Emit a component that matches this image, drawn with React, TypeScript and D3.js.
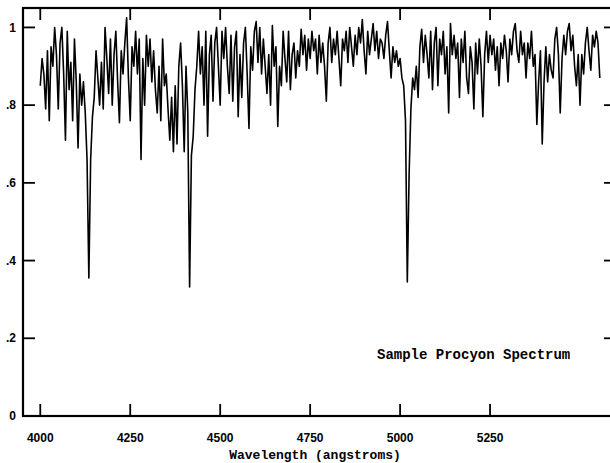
import { useEffect, useRef } from 'react'
import * as d3 from 'd3'

// spectrum sampled on a regular grid: first wavelength and step (angstroms)
const startWavelength = 4000
const wavelengthStep = 5

// normalised flux
const flux = [
  0.85, 0.92, 0.88, 0.79, 0.94, 0.76, 0.95, 0.9, 1.0, 0.93,
  0.79, 0.96, 1.0, 0.88, 0.71, 0.99, 0.84, 0.91, 0.76, 0.97,
  0.86, 0.69, 0.88, 0.8, 0.86, 0.78, 0.66, 0.355, 0.66, 0.77,
  0.82, 0.94, 0.87, 0.8, 0.91, 0.79, 1.0, 0.92, 0.83, 0.97,
  0.8, 0.93, 0.99, 0.86, 0.755, 0.94, 0.88, 0.96, 1.025, 0.87,
  0.76, 0.95, 0.9, 0.99, 0.88, 0.97, 0.66, 0.92, 0.8, 0.98,
  0.9, 0.97, 0.86, 0.94, 0.84, 0.78, 0.9, 0.76, 0.97, 0.85,
  0.88, 0.79, 0.71, 0.82, 0.68, 0.85, 0.7, 0.9, 0.96, 0.85,
  0.68, 0.9, 0.78, 0.332, 0.67, 0.72, 0.84, 0.9, 0.99, 0.88,
  0.95, 0.8, 0.99, 0.72, 0.93, 0.98, 0.81, 0.96, 1.0, 0.9,
  0.8, 0.99, 0.92, 1.0, 0.9, 0.83, 0.98, 0.81, 0.95, 0.99,
  0.77, 0.93, 0.82, 0.96, 1.0, 0.88, 0.74, 0.95, 0.89, 0.99,
  1.015, 0.91, 1.0, 0.88, 0.97, 0.9, 0.83, 0.93, 0.8, 1.005,
  0.9, 0.95, 0.745, 0.9, 0.85, 0.99, 0.92, 0.86, 0.99, 0.84,
  0.93, 0.96, 0.87, 0.94, 0.9, 0.995, 0.93, 0.98, 0.89, 0.97,
  0.92, 0.99, 0.94, 0.97, 0.88, 0.98, 0.91, 0.96, 0.9, 0.81,
  0.96, 1.0, 0.91, 0.97, 0.93, 0.99, 0.92, 0.85, 0.97, 0.94,
  0.99, 0.91, 1.0, 0.95, 0.9, 0.98, 0.93, 1.0, 0.96, 1.02,
  0.94, 0.88, 0.99, 0.93, 0.97, 1.01, 0.94, 0.99, 0.92, 0.97,
  0.96, 0.92, 0.98, 1.015, 0.94, 0.87, 0.95, 0.91, 0.94, 0.9,
  0.92, 0.87, 0.85, 0.76, 0.345, 0.62, 0.79, 0.87, 0.84, 0.9,
  0.82, 0.95, 0.995, 0.91, 0.98, 0.93, 0.87, 0.99, 0.84, 0.96,
  1.0, 0.85, 0.97, 0.93, 0.99, 0.88, 0.95, 0.78, 1.01, 0.93,
  0.98, 0.92, 0.96, 0.82, 0.97, 0.91, 0.99, 0.87, 0.83, 0.95,
  0.91, 0.79, 0.96, 0.88, 0.97, 0.9, 0.77, 0.93, 0.99, 0.91,
  0.98, 0.93, 0.97, 0.89, 0.95, 0.85, 0.96, 0.92, 0.98, 0.94,
  0.86, 0.97, 0.93, 0.99, 1.01, 0.94, 0.91, 0.99, 0.93, 0.96,
  0.87, 0.96, 0.92, 0.99, 0.9, 0.93, 0.75, 0.86, 0.94, 0.7,
  0.86, 0.95, 0.86, 0.93, 0.89, 0.87, 0.97, 1.0, 0.93, 0.78,
  0.92, 0.98, 0.93, 0.99, 1.01, 0.94, 0.98, 0.9, 0.85, 0.93,
  0.8, 0.93, 0.88, 0.96, 1.0, 0.94, 0.89, 0.98, 0.95, 0.99,
  0.96, 0.87,
]

const xTicks = [4000, 4250, 4500, 4750, 5000, 5250]
const yTicks = [0, 0.2, 0.4, 0.6, 0.8, 1]
const yTickLabels = ['0', '.2', '.4', '.6', '.8', '1']

const width = 610
const height = 463
const margin = { top: 8, right: -6, bottom: 47, left: 23 }

export default function App() {
  const ref = useRef<SVGSVGElement | null>(null)

  useEffect(() => {
    if (!ref.current) {return}
    const svg = d3.select(ref.current)
    svg.selectAll('*').remove()

    const x = d3.scaleLinear().domain([3952, 5600]).range([margin.left, width - margin.right])
    const y = d3.scaleLinear().domain([0, 1.05]).range([height - margin.bottom, margin.top])
    const [x0, x1] = x.range()
    const [y0, y1] = y.range()
    const tick = 12

    const points = flux.map((f, i) => [startWavelength + i * wavelengthStep, f] as [number, number])
    const line = d3.line<[number, number]>().x((d) => x(d[0])).y((d) => y(d[1]))

    svg.append('path')
      .datum(points)
      .attr('d', line)
      .attr('fill', 'none')
      .attr('stroke', '#000')
      .attr('stroke-width', 1.6)
      .attr('stroke-linejoin', 'round')

    // frame
    svg.append('rect')
      .attr('x', x0).attr('y', y1)
      .attr('width', x1 - x0).attr('height', y0 - y1)
      .attr('fill', 'none').attr('stroke', '#000').attr('stroke-width', 2.2)

    const ticks = svg.append('g').attr('stroke', '#000').attr('stroke-width', 1.8)
    xTicks.forEach((t) => {
      ticks.append('line').attr('x1', x(t)).attr('x2', x(t)).attr('y1', y0).attr('y2', y0 - tick)
      ticks.append('line').attr('x1', x(t)).attr('x2', x(t)).attr('y1', y1).attr('y2', y1 + tick)
    })
    yTicks.forEach((t) => {
      if (t === 0) {return}
      ticks.append('line').attr('x1', x0).attr('x2', x0 + tick).attr('y1', y(t)).attr('y2', y(t))
      ticks.append('line').attr('x1', x1).attr('x2', x1 - tick).attr('y1', y(t)).attr('y2', y(t))
    })

    const sans = '"Liberation Sans", Arial, sans-serif'
    const mono = '"Liberation Mono", "DejaVu Sans Mono", monospace'

    svg.append('g')
      .selectAll('text')
      .data(xTicks)
      .join('text')
      .attr('x', (d) => x(d))
      .attr('y', y0 + 26)
      .attr('text-anchor', 'middle')
      .attr('font-family', sans)
      .attr('font-weight', 'bold')
      .attr('font-size', 12)
      .text((d) => d)

    svg.append('g')
      .selectAll('text')
      .data(yTicks)
      .join('text')
      .attr('x', 16)
      .attr('y', (d) => y(d))
      .attr('dy', '0.35em')
      .attr('text-anchor', 'end')
      .attr('font-family', sans)
      .attr('font-weight', 'bold')
      .attr('font-size', 12)
      .text((_, i) => yTickLabels[i])

    svg.append('text')
      .attr('x', 315)
      .attr('y', 459)
      .attr('text-anchor', 'middle')
      .attr('font-family', mono)
      .attr('font-weight', 'bold')
      .attr('font-size', 13)
      .text('Wavelength (angstroms)')

    svg.append('text')
      .attr('x', 377)
      .attr('y', 359)
      .attr('font-family', mono)
      .attr('font-weight', 'bold')
      .attr('font-size', 14)
      .text('Sample Procyon Spectrum')
  }, [])

  return (
    <svg
      ref={ref}
      width={width}
      height={height}
      style={{ position: 'absolute', left: 0, top: 0, background: '#fff' }}
    />
  )
}
